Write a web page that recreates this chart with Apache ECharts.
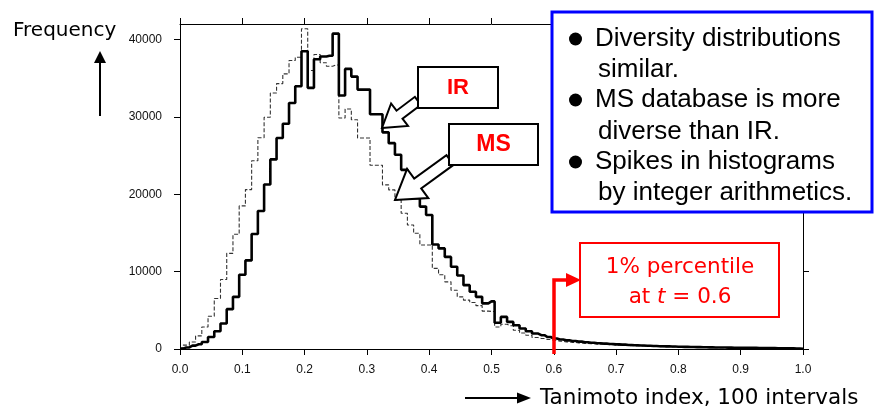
<!DOCTYPE html>
<html><head><meta charset="utf-8">
<script src="https://cdn.jsdelivr.net/npm/echarts@6/dist/echarts.min.js"></script>
<style>html,body{margin:0;padding:0;background:#fff}#c{width:874px;height:408px}</style>
</head><body><div id="c"></div>
<script>
// 100 intervals of the Tanimoto index; one value per bin centre 0.00 ... 1.00
const binCount = 100;
const irValues = [
  50, 200, 440, 610, 910, 1550, 2300, 3300, 5150, 6740,
  9600, 11450, 14860, 17840, 21250, 24500, 27260, 29100, 31800, 33950,
  38480, 33750, 37450, 37800, 37900, 40750, 32760, 36200, 35200, 33520,
  33520, 30330, 30330, 28000, 26600, 25100, 23150, 21640, 19500, 18400,
  17320, 13500, 13000, 11900, 10620, 9500, 8250, 7400, 6740, 5900,
  6150, 3400, 4150, 3500, 3070, 2640, 2290, 2000, 1780, 1550,
  1350, 1220, 1120, 1030, 950, 880, 810, 750, 700, 650,
  600, 560, 520, 480, 450, 420, 390, 360, 340, 320,
  300, 280, 260, 245, 230, 215, 200, 190, 180, 170,
  160, 150, 140, 130, 120, 110, 100, 90, 80, 60, 30
];
const msValues = [
  100, 500, 910, 1690, 2850, 4240, 6530, 8990, 12360, 14820,
  18490, 20600, 24320, 27300, 29950, 33090, 34300, 35550, 37280, 37710,
  41380, 36000, 38050, 37000, 36540, 36700, 29850, 31020, 29630, 27260,
  27260, 23750, 23750, 21210, 20560, 19270, 17540, 16030, 14950, 13440,
  13440, 10420, 9600, 8680, 7600, 6740, 6310, 6000, 5600, 4900,
  4850, 2850, 3200, 3000, 2420, 2070, 1780, 1480, 1350, 1220,
  1100, 1000, 920, 850, 780, 720, 670, 620, 580, 540,
  500, 470, 440, 410, 380, 355, 330, 310, 290, 270,
  255, 240, 225, 210, 200, 190, 180, 170, 160, 150,
  140, 130, 120, 110, 100, 90, 80, 70, 60, 50, 20
];
const xTickLabels = ['0.0','0.1','0.2','0.3','0.4','0.5','0.6','0.7','0.8','0.9','1.0'];
const yTickValues = [0, 10000, 20000, 30000, 40000];
const yMax = 42000;

const toPairs = vals => vals.map((v, i) => [i / binCount, v]);

const chart = echarts.init(document.getElementById('c'), null, {renderer: 'canvas'});
const axisLine = {show: true, onZero: false, lineStyle: {color: '#000', width: 1}};
const tickStyle = {show: true, inside: false, length: 6, lineStyle: {color: '#000', width: 1}};
const labelFont = {fontSize: 12, fontFamily: 'Liberation Sans, Arial, sans-serif', color: '#111'};

const option = {
  animation: false,
  backgroundColor: '#fff',
  grid: {left: 180, right: 71, top: 24, bottom: 59},
  xAxis: [
    {type: 'value', min: 0, max: 1, interval: 0.1, position: 'bottom',
      axisLine, axisTick: tickStyle,
      axisLabel: Object.assign({margin: 15, formatter: v => xTickLabels[Math.round(v * 10)] || ''}, labelFont),
      splitLine: {show: false}},
    {type: 'value', min: 0, max: 1, interval: 0.1, position: 'top',
      axisLine, axisTick: tickStyle, axisLabel: {show: false}, splitLine: {show: false}}
  ],
  yAxis: [
    {type: 'value', min: 0, max: yMax, interval: 10000, position: 'left',
      axisLine, axisTick: Object.assign({customValues: yTickValues}, tickStyle),
      axisLabel: Object.assign({margin: 18, customValues: yTickValues,
        formatter: v => yTickValues.includes(v) ? String(v) : ''}, labelFont),
      splitLine: {show: false}},
    {type: 'value', min: 0, max: yMax, interval: 10000, position: 'right',
      axisLine, axisTick: Object.assign({customValues: yTickValues}, tickStyle),
      axisLabel: {show: false}, splitLine: {show: false}}
  ],
  series: [
    {name: 'MS', type: 'line', step: 'middle', symbol: 'none', data: toPairs(msValues),
      lineStyle: {color: '#333', width: 1.1, type: [4, 2]}, z: 2},
    {name: 'IR', type: 'line', step: 'middle', symbol: 'none', data: toPairs(irValues),
      lineStyle: {color: '#000', width: 2.6}, z: 3}
  ],
  graphic: [
    // Frequency label + up arrow
    {type: 'text', z: 100, style: {x: 13, y: 41, text: 'Frequency', font: '20px "DejaVu Sans"', fill: '#000',
      textAlign: 'left', textVerticalAlign: 'bottom', align: 'left', verticalAlign: 'bottom'}},
    {type: 'line', z: 100, shape: {x1: 100, y1: 116, x2: 100, y2: 60}, style: {stroke: '#000', lineWidth: 2}},
    {type: 'polygon', z: 100, shape: {points: [[94, 63], [100, 51], [106, 63]]}, style: {fill: '#000'}},
    // x axis title + right arrow
    {type: 'line', z: 100, shape: {x1: 465, y1: 398, x2: 520, y2: 398}, style: {stroke: '#000', lineWidth: 2}},
    {type: 'polygon', z: 100, shape: {points: [[517, 392.5], [531, 398], [517, 403.5]]}, style: {fill: '#000'}},
    {type: 'text', z: 100, style: {x: 540, y: 398, text: 'Tanimoto index, 100 intervals', font: '21.5px "DejaVu Sans"', fill: '#000',
      textAlign: 'left', textVerticalAlign: 'middle', align: 'left', verticalAlign: 'middle'}},
    // IR block arrow + box
    {type: 'polygon', z: 100, shape: {points: [[382, 128], [408, 125.9], [402.5, 118.7], [420.9, 104.8], [414.9, 96.8], [396.5, 110.7], [391.1, 103.5]]},
      style: {fill: '#fff', stroke: '#000', lineWidth: 2}},
    {type: 'rect', z: 101, shape: {x: 418, y: 67, width: 80, height: 41}, style: {fill: '#fff', stroke: '#000', lineWidth: 2}},
    {type: 'text', z: 102, style: {x: 458, y: 88, text: 'IR', font: 'bold 22px "Liberation Sans"', fill: '#ff0000',
      textAlign: 'center', textVerticalAlign: 'middle', align: 'center', verticalAlign: 'middle'}},
    // MS block arrow + box
    {type: 'polygon', z: 100, shape: {points: [[395, 200], [428.3, 198.1], [421.2, 188.4], [453.5, 164.9], [446.5, 155.1], [414.2, 178.6], [407.1, 168.9]]},
      style: {fill: '#fff', stroke: '#000', lineWidth: 2}},
    {type: 'rect', z: 101, shape: {x: 449, y: 124, width: 89, height: 41}, style: {fill: '#fff', stroke: '#000', lineWidth: 2}},
    {type: 'text', z: 102, style: {x: 493.5, y: 145, text: 'MS', font: 'bold 23px "Liberation Sans"', fill: '#ff0000',
      textAlign: 'center', textVerticalAlign: 'middle', align: 'center', verticalAlign: 'middle'}},
    // blue note box
    {type: 'rect', z: 101, shape: {x: 552, y: 12, width: 320, height: 200}, style: {fill: '#fff', stroke: '#0000ff', lineWidth: 3}},
    {type: 'circle', z: 102, shape: {cx: 575.5, cy: 39, r: 6.5}, style: {fill: '#000'}},
    {type: 'circle', z: 102, shape: {cx: 575.5, cy: 100, r: 6.5}, style: {fill: '#000'}},
    {type: 'circle', z: 102, shape: {cx: 575.5, cy: 162, r: 6.5}, style: {fill: '#000'}},
    ...[
      ['Diversity distributions', 595, 39],
      ['similar.', 598, 70],
      ['MS database is more', 595, 100],
      ['diverse than IR.', 598, 132],
      ['Spikes in histograms', 595, 162],
      ['by integer arithmetics.', 598, 193]
    ].map(([t, x, y]) => ({type: 'text', z: 102, style: {x, y, text: t, font: '26px "Liberation Sans"', fill: '#000',
      textAlign: 'left', textVerticalAlign: 'middle', align: 'left', verticalAlign: 'middle'}})),
    // percentile annotation
    {type: 'polyline', z: 100, shape: {points: [[554, 354], [554, 280], [568, 280]]}, style: {stroke: '#ff0000', lineWidth: 3.5, fill: null}},
    {type: 'polygon', z: 100, shape: {points: [[566, 273], [581, 280], [566, 287]]}, style: {fill: '#ff0000'}},
    {type: 'rect', z: 101, shape: {x: 580, y: 243, width: 199, height: 74}, style: {fill: '#fff', stroke: '#ff0000', lineWidth: 2}},
    {type: 'text', z: 102, style: {x: 680, y: 267, text: '1% percentile', font: '21.5px "DejaVu Sans"', fill: '#ff0000',
      textAlign: 'center', textVerticalAlign: 'middle', align: 'center', verticalAlign: 'middle'}},
    {type: 'text', z: 102, style: {x: 680, y: 297, text: 'at {i|t} = 0.6', font: '21.5px "DejaVu Sans"', fill: '#ff0000',
      textAlign: 'center', textVerticalAlign: 'middle', align: 'center', verticalAlign: 'middle',
      rich: {i: {fontStyle: 'italic', fontSize: 21.5, fontFamily: 'DejaVu Sans', fill: '#ff0000', color: '#ff0000'}}}}
  ]
};
chart.setOption(option);
</script>
</body></html>
